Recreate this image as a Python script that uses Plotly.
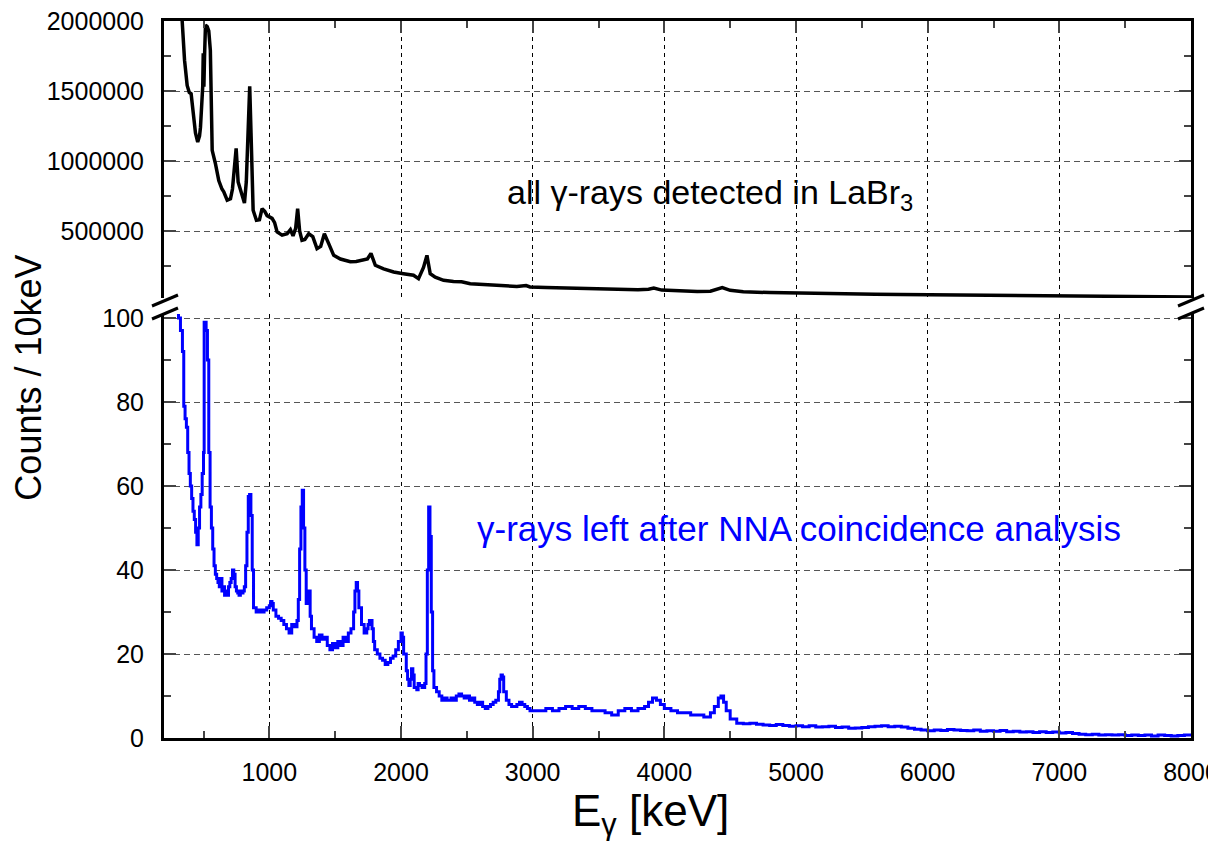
import plotly.graph_objects as go

# ---- data: all gamma rays (black, top panel) ----
all_E = [338, 356, 376, 392, 406, 420, 439, 456, 470, 477, 486, 494, 498, 503, 508, 515, 528, 540, 552,
         566, 591, 616, 640, 654, 680, 705, 720, 730, 748, 763, 780, 795, 811, 825, 836, 851, 861, 877,
         902, 925, 945, 965, 983, 1021, 1040, 1059, 1097, 1135, 1160, 1180, 1200, 1215, 1230, 1248, 1270,
         1299, 1330, 1362, 1390, 1418, 1451, 1489, 1540, 1615, 1660, 1716, 1745, 1772, 1805, 1868, 1944,
         2019, 2095, 2133, 2171, 2197, 2222, 2260, 2323, 2399, 2460, 2526, 2640, 2755, 2880, 2950, 2980,
         3100, 3250, 3400, 3510, 3650, 3800, 3880, 3920, 3980, 4100, 4250, 4350, 4410, 4440, 4500, 4600,
         4800, 5030, 5300, 5600, 5790, 6000, 6150, 6300, 6540, 6800, 7000, 7300, 7600, 8000]
all_counts = [2000000, 1720000, 1540000, 1490000, 1480000, 1350000, 1200000, 1136000, 1180000, 1240000,
              1400000, 1530000, 1770000, 1530000, 1750000, 1970000, 1960000, 1930000, 1790000,
              1076000, 980000, 860000, 800000, 780000, 720000, 730000, 800000, 886000, 1090000, 850000,
              790000, 760000, 700000, 850000, 1200000, 1534000, 1200000, 648000,
              576000, 580000, 660000, 640000, 610000, 590000, 560000, 493000, 470000, 480000, 510000,
              465000, 520000, 660000, 500000, 434000, 440000,
              480000, 460000, 374000, 390000, 480000, 410000, 326000, 300000, 280000, 282000, 290000,
              300000, 340000, 255000, 230000, 207000,
              195000, 184000, 160000, 240000, 326000, 195000, 170000, 148000, 140000, 138000, 124000,
              118000, 112000, 104000, 110000, 100000,
              96000, 92000, 88000, 86000, 82000, 80000, 84000, 92000, 78000, 72000, 68000, 70000, 84000,
              96000, 76000, 66000,
              60000, 55000, 50000, 48000, 46000, 44000, 46000, 43000, 40000, 37000, 35000, 33000, 31000, 29000]

# ---- data: gamma rays left after NNA coincidence analysis (blue, bottom panel) ----
nna_E = [300, 310, 325, 340, 350, 360, 370, 380, 390, 400, 410, 420, 430, 440, 450, 460, 470, 480, 490,
         500, 505, 520, 530, 540, 550, 560, 570, 580, 590, 600, 610, 620, 630, 640, 650, 660, 670, 680,
         690, 700, 710, 720, 730, 740, 750, 760, 770, 780, 790, 800, 810, 820, 830, 840, 850, 860, 870,
         880, 900, 920, 940, 960, 980, 1000, 1010, 1020, 1030, 1050, 1070, 1090, 1110, 1130, 1150, 1170,
         1190, 1210, 1220, 1230, 1240, 1250, 1260, 1270, 1280, 1290, 1300, 1310, 1320, 1340, 1360, 1380,
         1400, 1420, 1440, 1460, 1480, 1500, 1520, 1540, 1560, 1580, 1600, 1620, 1640, 1650, 1660, 1670,
         1680, 1700, 1720, 1740, 1750, 1760, 1780, 1790, 1800, 1820, 1840, 1860, 1880, 1900, 1920, 1940,
         1960, 1980, 2000, 2010, 2020, 2040, 2050, 2060, 2070, 2080, 2090, 2100, 2120, 2130, 2140, 2160,
         2180, 2190, 2200, 2210, 2220, 2230, 2240, 2250, 2270, 2290, 2310, 2330, 2350, 2380, 2400, 2420,
         2440, 2460, 2480, 2500, 2520, 2540, 2560, 2580, 2600, 2620, 2640, 2660, 2680, 2700, 2720, 2740,
         2750, 2760, 2770, 2780, 2800, 2820, 2840, 2860, 2880, 2900, 2920, 2940, 2960, 2980, 3000, 3050,
         3100, 3150, 3200, 3250, 3300, 3350, 3400, 3450, 3500, 3550, 3600, 3650, 3700, 3750, 3800, 3850,
         3880, 3910, 3940, 3970, 4000, 4050, 4100, 4150, 4200, 4250, 4300, 4350, 4380, 4410, 4430, 4450,
         4470, 4500, 4550, 4600, 4650, 4700, 4750, 4800, 4850, 4900, 4950, 5000, 5050, 5100, 5150, 5200,
         5250, 5300, 5350, 5400, 5450, 5500, 5550, 5600, 5650, 5700, 5750, 5800, 5850, 5900, 5950, 6000,
         6050, 6100, 6150, 6200, 6250, 6300, 6350, 6400, 6450, 6500, 6550, 6600, 6650, 6700, 6750, 6800,
         6850, 6900, 6950, 7000, 7050, 7100, 7150, 7200, 7250, 7300, 7350, 7400, 7450, 7500, 7550, 7600,
         7650, 7700, 7750, 7800, 7850, 7900, 7950, 8000]
nna_counts = [101, 100, 97, 92, 79, 76, 74, 68, 63, 60, 57, 54, 52, 49, 46, 50, 55, 58, 63,
              68, 99, 97, 90, 68, 55, 50, 45, 41, 39, 38, 37, 36, 38, 35, 36, 34, 35, 34,
              36, 37, 38, 40, 39, 36, 35, 34.5, 34, 35, 34.5, 35, 36, 41, 49, 57.5, 58, 53, 40,
              31, 30, 30.5, 30, 30.5, 31, 31.5, 32.5, 32, 30.5, 29, 28.5, 28, 27, 26, 25, 27,
              26.5, 28, 33, 45, 55, 59, 50, 40, 32, 34.5, 35, 29, 26, 24, 23, 24.5,
              23.5, 24, 22, 21, 22.5, 21.5, 23, 22, 24, 23, 25, 26, 30, 35, 37, 35,
              31, 27, 25, 26, 27, 28, 26, 23, 21, 20, 19, 18.5, 17.5, 18, 19, 19.5,
              21, 23, 25, 24, 20, 16, 14, 12.5, 14, 16.5, 15, 12, 11.5, 13, 12.5, 12,
              13, 20, 40, 55, 48, 30, 16, 12, 11, 10, 9, 9.5, 9, 9.5, 9, 10,
              10.5, 10, 9.5, 10, 9, 9.5, 8.5, 8, 8.5, 7.5, 7, 7.5, 8, 8.5, 9, 11,
              14, 15, 14.5, 11, 9, 8, 7.5, 7.5, 8, 8.5, 8, 7.5, 7, 6.5, 6.5, 6.5,
              7, 6.5, 7, 7.5, 7, 7.5, 7, 6.5, 6.5, 6, 5.5, 6.5, 7, 6.5, 7, 7.5,
              8.5, 9.5, 9, 8, 7, 6.5, 6, 6, 5.5, 5.5, 5, 6, 7.5, 9.5, 10, 8.5,
              6.5, 4.5, 3.5, 3.4, 3.5, 3.3, 3.1, 3.0, 3.2, 3.0, 2.8, 2.9, 2.7, 2.9, 2.6, 2.7,
              2.8, 2.5, 2.6, 2.3, 2.4, 2.5, 2.7, 2.8, 2.9, 2.7, 2.8, 2.6, 2.3, 2.1, 1.9, 1.7,
              1.9, 1.8, 2.0, 1.9, 1.8, 1.7, 1.9, 1.6, 1.7, 1.6, 1.8, 1.5, 1.6, 1.4, 1.5, 1.3,
              1.5, 1.3, 1.4, 1.2, 1.3, 1.1, 0.9, 0.8, 0.9, 0.7, 0.8, 0.7, 0.8, 0.6, 0.7, 0.6,
              0.7, 0.5, 0.7, 0.6, 0.5, 0.6, 0.7, 0.6]

x_ticks = [1000, 2000, 3000, 4000, 5000, 6000, 7000, 8000]
top_ticks = [500000, 1000000, 1500000, 2000000]
bottom_ticks = [0, 20, 40, 60, 80, 100]

FONT = "Liberation Sans, Arial, sans-serif"

# page geometry (the html body adds an 8px margin around the plot div)
BODY = 8
W, H = 1216 - BODY, 841 - BODY
PLOT_L, PLOT_R = 163.5, 1191.5      # page px
PLOT_T, PLOT_B = 21.0, 738.0        # page px
PW = PLOT_R - PLOT_L
PH = PLOT_B - PLOT_T
TOP_PANEL_BOTTOM = 298.0
BOT_PANEL_TOP = 314.0

fig = go.Figure()
fig.add_trace(go.Scatter(x=all_E, y=all_counts, mode="lines", line=dict(color="black", width=3.5),
                         xaxis="x2", yaxis="y2", showlegend=False))
fig.add_trace(go.Scatter(x=nna_E, y=nna_counts, mode="lines", line=dict(color="#0000ff", width=3, shape="hv"),
                         xaxis="x", yaxis="y", showlegend=False))

common_x = dict(range=[200, 8000.01], tickvals=x_ticks, ticktext=[str(v) for v in x_ticks],
                ticks="inside", ticklen=12, tickwidth=2, automargin=False, ticklabeloverflow="allow",
                showline=True, linecolor="black", linewidth=3, showgrid=True, gridcolor="black",
                gridwidth=1, griddash="4px,4px", zeroline=False,
                minor=dict(dtick=500, tick0=0, ticks="inside", ticklen=7, tickwidth=2, showgrid=False),
                tickfont=dict(family=FONT, size=25, color="black"))

common_y = dict(ticks="inside", ticklen=12, tickwidth=2, showline=True, mirror="ticks", linecolor="black",
                linewidth=3, showgrid=True, gridcolor="#555", gridwidth=1, griddash="6px,4px",
                zeroline=False, ticklabelstandoff=12, automargin=False, ticklabeloverflow="allow",
                tickfont=dict(family=FONT, size=25, color="black"))

fig.update_layout(
    width=W, height=H, autosize=False,
    margin=dict(l=PLOT_L - BODY, r=(W + BODY) - PLOT_R, t=PLOT_T - BODY, b=(H + BODY) - PLOT_B, pad=0),
    paper_bgcolor="white", plot_bgcolor="white",
    font=dict(family=FONT, color="black"),
    xaxis=dict(**common_x, anchor="y", side="bottom", ticklabelstandoff=10),
    xaxis2=dict(**common_x, anchor="y2", side="top", showticklabels=False, matches="x"),
    yaxis=dict(**common_y, domain=[0, (PLOT_B - BOT_PANEL_TOP) / PH],
               range=[0, (PLOT_B - BOT_PANEL_TOP) / 4.2],
               tickvals=bottom_ticks, ticktext=[str(v) for v in bottom_ticks],
               minor=dict(dtick=10, ticks="inside", ticklen=7, tickwidth=2, showgrid=False)),
    yaxis2=dict(**common_y, domain=[(PLOT_B - TOP_PANEL_BOTTOM) / PH, 1],
                range=[2000000 - (TOP_PANEL_BOTTOM - PLOT_T) / 140 * 1e6, 2000000],
                tickvals=top_ticks, ticktext=[str(v) for v in top_ticks],
                minor=dict(dtick=250000, ticks="inside", ticklen=7, tickwidth=2, showgrid=False)),
)

def px_x(p):
    return (p - PLOT_L) / PW

def px_y(p):
    return (PLOT_B - p) / PH

# axis break marks
for cx in (164.5, 1191.5):
    for cy in (300.5, 313.5):
        fig.add_shape(type="line", xref="paper", yref="paper",
                      x0=px_x(cx - 13), y0=px_y(cy + 5.5), x1=px_x(cx + 13), y1=px_y(cy - 5.5),
                      line=dict(color="black", width=3))

fig.add_annotation(text="all γ-rays detected in LaBr<sub>3</sub>", xref="paper", yref="paper",
                   x=px_x(505), y=px_y(195), xanchor="left", yanchor="middle", showarrow=False,
                   font=dict(family=FONT, size=34, color="black"))
fig.add_annotation(text="γ-rays left after NNA coincidence analysis", xref="paper", yref="paper",
                   x=px_x(475), y=px_y(528), xanchor="left", yanchor="middle", showarrow=False,
                   font=dict(family=FONT, size=35, color="#0000ff"))
fig.add_annotation(text="E<sub>γ</sub> [keV]", xref="paper", yref="paper",
                   x=px_x(650), y=px_y(814), xanchor="center", yanchor="middle", showarrow=False,
                   font=dict(family=FONT, size=44, color="black"))
fig.add_annotation(text="Counts / 10keV", xref="paper", yref="paper", textangle=-90,
                   x=px_x(27), y=px_y(378), xanchor="center", yanchor="middle", showarrow=False,
                   font=dict(family=FONT, size=36, color="black"))

fig.write_html("out.html")
